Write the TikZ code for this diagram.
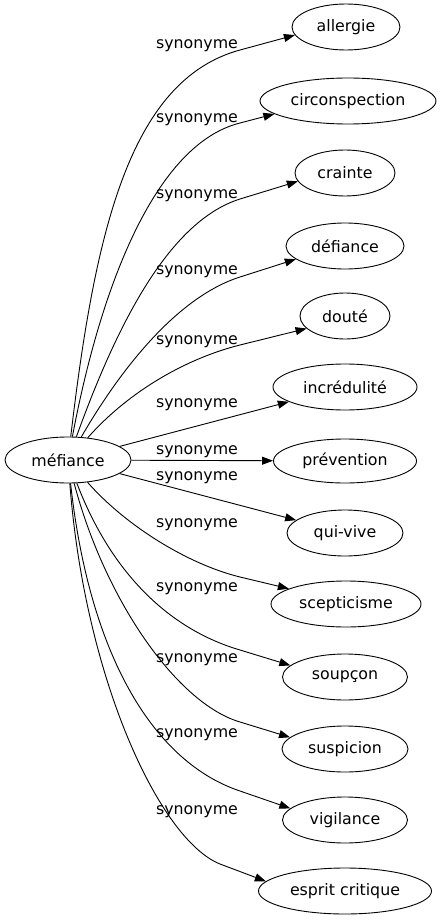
\documentclass[tikz,border=0pt]{standalone}
\usepackage{fontspec}
\setmainfont{DejaVu Sans}
\usetikzlibrary{arrows.meta,shapes.geometric}
\begin{document}
\begin{tikzpicture}[x=1pt,y=-1pt,
  every node/.style={font=\fontsize{15.8}{18}\selectfont},
  term/.style={ellipse,draw,line width=0.9pt,inner sep=0pt,minimum height=46pt},
  lab/.style={inner sep=0pt},
  edge/.style={line width=0.9pt,-{Triangle[length=11pt,width=8pt]}}]
\useasboundingbox (0,0) rectangle (441,923);
\node[term,minimum width=126pt] (m) at (68,460) {méfiance};
\node[term,minimum width=108pt] (t1) at (346,27) {allergie};
\node[term,minimum width=176pt] (t2) at (348,101) {circonspection};
\node[term,minimum width=100pt] (t3) at (345,173) {crainte};
\node[term,minimum width=118pt] (t4) at (345,246) {défiance};
\node[term,minimum width=90pt] (t5) at (345,316) {douté};
\node[term,minimum width=144pt] (t6) at (345,387) {incrédulité};
\node[term,minimum width=143pt,minimum height=44pt] (t7) at (345,461) {prévention};
\node[term,minimum width=116pt] (t8) at (345,533) {qui-vive};
\node[term,minimum width=150pt] (t9) at (346,604) {scepticisme};
\node[term,minimum width=125pt] (t10) at (345,677) {soupçon};
\node[term,minimum width=126pt] (t11) at (345,749) {suspicion};
\node[term,minimum width=125pt] (t12) at (345,820) {vigilance};
\node[term,minimum width=173pt] (t13) at (345,891) {esprit critique};

\draw[edge] (m) .. controls (95,230) and (130,80) .. (240,50) -- (t1.189);
\draw[edge] (m) .. controls (100,290) and (154,144.5) .. (240,123) -- (t2.190);
\draw[edge] (m) .. controls (115,330) and (167,222) .. (240,199) -- (t3.190);
\draw[edge] (m) .. controls (120,370) and (177,297) .. (240,277) -- (t4.195);
\draw[edge] (m) .. controls (130,390) and (188,358) .. (240,345) -- (t5.198);
\draw[edge] (m) -- (t6);
\draw[edge] (m) -- (t7);
\draw[edge] (m) -- (t8);
\draw[edge] (m) .. controls (125,525) and (187,564) .. (240,577) -- (t9.165);
\draw[edge] (m) .. controls (110,570) and (166.5,628.4) .. (240,650) -- (t10.168);
\draw[edge] (m) .. controls (105,600) and (177,703.5) .. (240,722) -- (t11.168);
\draw[edge] (m) .. controls (90,660) and (156,763) .. (240,791) -- (t12.168);
\draw[edge] (m) .. controls (85,680) and (160,840) .. (220,864) -- (t13.173);

\node[lab] (l1) at (197,46) {synonyme};
\node[lab] (l2) at (197,120) {synonyme};
\node[lab] (l3) at (197,196) {synonyme};
\node[lab] (l4) at (197,272) {synonyme};
\node[lab] (l5) at (197,342) {synonyme};
\node[lab] (l6) at (197,405) {synonyme};
\node[lab] (l7) at (197,452) {synonyme};
\node[lab] (l8) at (197,478) {synonyme};
\node[lab] (l9) at (197,525) {synonyme};
\node[lab] (l10) at (197,589) {synonyme};
\node[lab] (l11) at (197,660) {synonyme};
\node[lab] (l12) at (197,735) {synonyme};
\node[lab] (l13) at (197,812) {synonyme};
\end{tikzpicture}
\end{document}
